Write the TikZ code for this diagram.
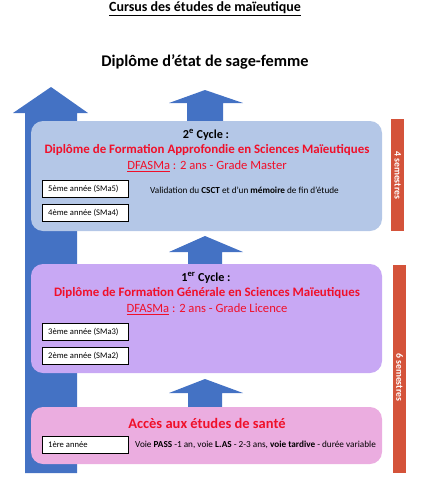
\documentclass[tikz,border=0pt]{standalone}
\usepackage{fontspec}
\setmainfont{Carlito}
\definecolor{arrowblue}{HTML}{4472C4}
\definecolor{boxblue}{HTML}{B4C7E7}
\definecolor{boxpurple}{HTML}{C8A8F4}
\definecolor{boxpink}{HTML}{EBADE0}
\definecolor{barred}{HTML}{D4533A}
\definecolor{txtred}{HTML}{F0102A}
\tikzset{
  cyclebox/.style={rounded corners=12pt, minimum width=351pt, inner sep=0pt, draw=none},
  yearbox/.style={draw=black, line width=0.8pt, fill=white, minimum width=86pt, minimum height=17pt, inner sep=0pt, anchor=north west},
  yeartext/.style={font=\fontsize{8.6}{10}\selectfont, anchor=west, inner sep=0pt},
  semibar/.style={fill=barred, draw=none, minimum width=13pt, inner sep=0pt, anchor=north west},
  semitext/.style={text=white, font=\bfseries\fontsize{9.8}{11}\selectfont, rotate=-90, inner sep=0pt},
  cycletitle/.style={font=\bfseries\fontsize{12.2}{14}\selectfont, inner sep=0pt},
  redtitle/.style={text=txtred, font=\bfseries\fontsize{12.9}{14}\selectfont, inner sep=0pt},
  redsub/.style={text=txtred, font=\fontsize{12.6}{14}\selectfont, inner sep=0pt},
  smalltext/.style={font=\fontsize{9.2}{11}\selectfont, anchor=west, inner sep=0pt},
  uparrow/.style={fill=arrowblue, draw=none}
}
\begin{document}
\begin{tikzpicture}[x=1pt,y=-1pt]
\useasboundingbox (0,0) rectangle (433,496);
% titles
\node[inner sep=0pt, font=\bfseries\fontsize{14}{16}\selectfont] (title) at (205,8.5) {\underline{Cursus des études de maïeutique}};
\node[inner sep=0pt, font=\bfseries\fontsize{16.3}{18}\selectfont] (dipl) at (205,62) {Diplôme d’état de sage-femme};
% big arrow
\fill[uparrow] (25,473) -- (25,113) -- (13,113) -- (51,87) -- (88,113) -- (77,113) -- (77,473) -- cycle;
% small arrows
\fill[uparrow] (187,123) -- (187,103) -- (169,103) -- (205,90) -- (243,103) -- (223,103) -- (223,123) -- cycle;
\fill[uparrow] (188,266) -- (188,252) -- (169,252) -- (205,236) -- (243,252) -- (222,252) -- (222,266) -- cycle;
\fill[uparrow] (188,409) -- (188,393) -- (169,393) -- (205,379) -- (243,393) -- (222,393) -- (222,409) -- cycle;
% cycle boxes
\node[cyclebox, fill=boxblue, minimum height=110pt] (c2) at (206.5,176) {};
\node[cyclebox, fill=boxpurple, minimum height=109pt] (c1) at (206.5,318.5) {};
\node[cyclebox, fill=boxpink, minimum height=57pt] (acc) at (206.5,435.5) {};
% semester bars
\node[semibar, minimum height=112pt] (bar4) at (391,119) {};
\node[semitext] at (bar4.center) {4 semestres};
\node[semibar, minimum height=208pt] (bar6) at (393,265) {};
\node[semitext] at ([yshift=-8pt]bar6.center) {6 semestres};
% 2nd cycle texts
\node[cycletitle] (c2t) at (206,135) {2\textsuperscript{e} Cycle :};
\node[redtitle] (c2r) at (207,150) {Diplôme de Formation Approfondie en Sciences Maïeutiques};
\node[redsub] (c2s) at (207,166) {\underline{DFASMa} : 2 ans - Grade Master};
\node[yearbox] (y5) at (42,180) {};
\node[yeartext] at (48,188.5) {5ème année (SMa5)};
\node[yearbox] (y4) at (42,204) {};
\node[yeartext] at (48,212.5) {4ème année (SMa4)};
\node[smalltext] (val) at (150,190) {Validation du \textbf{CSCT} et d’un \textbf{mémoire} de fin d’étude};
% 1st cycle texts
\node[cycletitle] (c1t) at (206,278) {1\textsuperscript{er} Cycle :};
\node[redtitle] (c1r) at (207,293) {Diplôme de Formation Générale en Sciences Maïeutiques};
\node[redsub] (c1s) at (207,309) {\underline{DFASMa} : 2 ans - Grade Licence};
\node[yearbox] (y3) at (42,323) {};
\node[yeartext] at (48,331.5) {3ème année (SMa3)};
\node[yearbox] (y2) at (42,347) {};
\node[yeartext] at (48,355.5) {2ème année (SMa2)};
% access texts
\node[redtitle, font=\bfseries\fontsize{14.5}{16}\selectfont] (acct) at (207,423) {Accès aux études de santé};
\node[yearbox] (y1) at (42,436) {};
\node[yeartext] at (48,444.5) {1ère année};
\node[smalltext] (voie) at (135,445) {Voie \textbf{PASS} -1 an, voie \textbf{L.AS} - 2-3 ans, \textbf{voie tardive} - durée variable};
\end{tikzpicture}
\end{document}
